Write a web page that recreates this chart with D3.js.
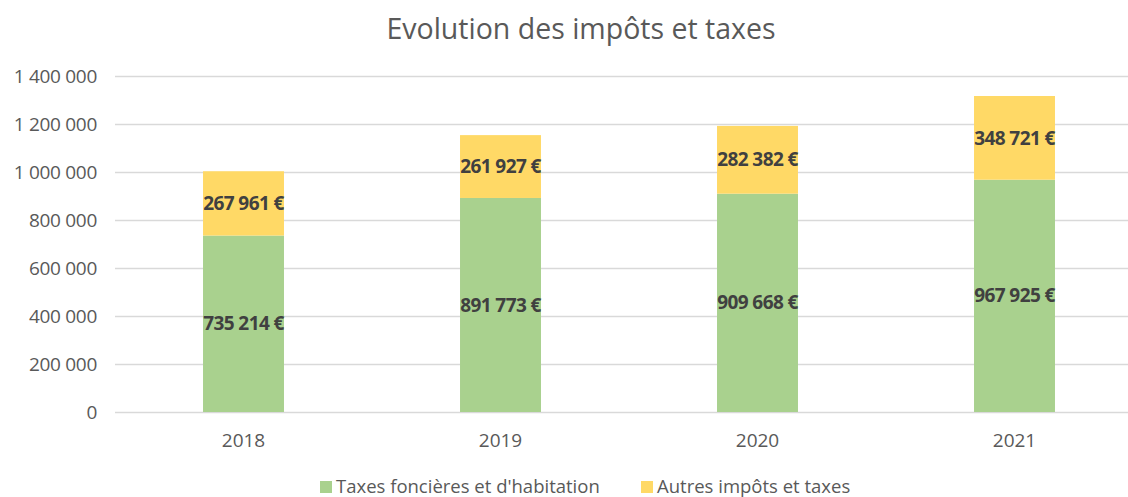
<!DOCTYPE html>
<html lang="fr">
<head>
<meta charset="utf-8">
<style>
    body { margin: 0; background: #fff; }
    text { font-family: "Open Sans", "DejaVu Sans", sans-serif; }
    .grid line { stroke: #d9d9d9; stroke-width: 1.3; }
    .grid .domain { display: none; }
</style>
</head>
<body>
<svg width="1128" height="497"></svg>
<script src="https://cdn.jsdelivr.net/npm/d3@7"></script>
<script>

    // data
    var years = ["2018", "2019", "2020", "2021"];
    var taxesFoncieres = [735214, 891773, 909668, 967925];
    var autresImpots = [267961, 261927, 282382, 348721];
    var seriesNames = ["Taxes foncières et d'habitation", "Autres impôts et taxes"];
    var seriesColors = ["#a9d18e", "#ffd966"];
    var yTicks = [0, 200000, 400000, 600000, 800000, 1000000, 1200000, 1400000];

    var svg = d3.select("svg"),
        width = +svg.attr("width"),
        height = +svg.attr("height");

    var x = d3.scaleBand()
        .domain(years)
        .range([115, 1143])
        .paddingInner(0.685)
        .paddingOuter(0.3425);

    var y = d3.scaleLinear()
        .domain([0, 1400000])
        .range([412, 76]);

    var fmt = function (v) {
        return d3.format(",")(v).replace(/,/g, " ");
    };

    // gridlines
    svg.append("g")
        .attr("class", "grid")
        .attr("transform", "translate(115,0)")
        .call(d3.axisRight(y).tickValues(yTicks).tickSize(1013).tickFormat(""));

    // y labels
    svg.append("g")
        .selectAll("text")
        .data(yTicks)
        .enter().append("text")
        .attr("x", 97)
        .attr("y", function (d) { return y(d); })
        .attr("dy", "0.35em")
        .attr("text-anchor", "end")
        .attr("fill", "#595959")
        .attr("font-size", 19)
        .attr("letter-spacing", "-0.3")
        .text(function (d) { return fmt(d); });

    // x labels
    svg.append("g")
        .selectAll("text")
        .data(years)
        .enter().append("text")
        .attr("x", function (d) { return x(d) + x.bandwidth() / 2; })
        .attr("y", 447)
        .attr("text-anchor", "middle")
        .attr("fill", "#595959")
        .attr("font-size", 19)
        .text(function (d) { return d; });

    var rows = years.map(function (yr, i) {
        return { year: yr, a: taxesFoncieres[i], b: autresImpots[i] };
    });
    var stacked = d3.stack().keys(["a", "b"])(rows);

    var layers = svg.append("g")
        .selectAll("g")
        .data(stacked)
        .enter().append("g")
        .attr("fill", function (d, i) { return seriesColors[i]; });

    layers.selectAll("rect")
        .data(function (d) { return d; })
        .enter().append("rect")
        .attr("x", function (d) { return x(d.data.year); })
        .attr("width", x.bandwidth())
        .attr("y", function (d) { return y(d[1]); })
        .attr("height", function (d) { return y(d[0]) - y(d[1]); });

    // data labels
    svg.append("g")
        .selectAll("g")
        .data(stacked)
        .enter().append("g")
        .selectAll("text")
        .data(function (d) { return d; })
        .enter().append("text")
        .attr("x", function (d) { return x(d.data.year) + x.bandwidth() / 2; })
        .attr("y", function (d) { return y((d[0] + d[1]) / 2); })
        .attr("dy", "0.35em")
        .attr("text-anchor", "middle")
        .attr("fill", "#404040")
        .attr("font-size", 19)
        .attr("font-weight", "bold")
        .attr("letter-spacing", "-0.6")
        .text(function (d) { return fmt(d[1] - d[0]) + " €"; });

    // title
    svg.append("text")
        .attr("x", 581)
        .attr("y", 39)
        .attr("text-anchor", "middle")
        .attr("fill", "#595959")
        .attr("font-size", 28.5)
        .text("Evolution des impôts et taxes");

    // legend
    var legendX = [320, 641];
    var lg = svg.append("g")
        .selectAll("g")
        .data(seriesNames)
        .enter().append("g")
        .attr("transform", function (d, i) { return "translate(" + legendX[i] + ",481)"; });

    lg.append("rect")
        .attr("width", 12)
        .attr("height", 12)
        .attr("fill", function (d, i) { return seriesColors[i]; });

    lg.append("text")
        .attr("x", 16)
        .attr("y", 6)
        .attr("dy", "0.35em")
        .attr("fill", "#595959")
        .attr("font-size", 18.5)
        .text(function (d) { return d; });

</script>
</body>
</html>
